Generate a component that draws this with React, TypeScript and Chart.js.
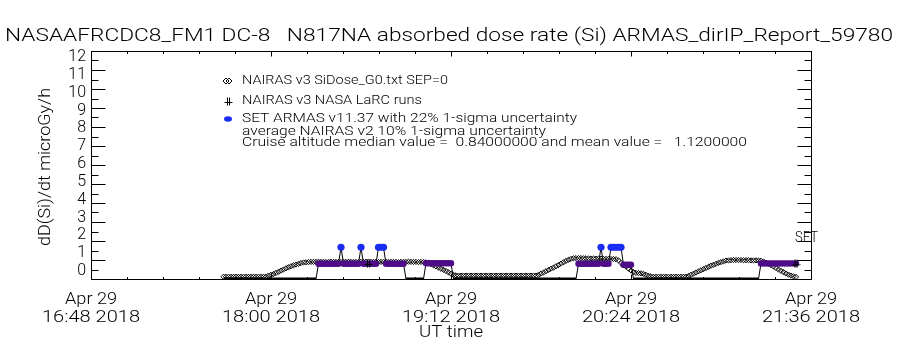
import React, { useEffect, useRef } from 'react';
import { Chart, registerables } from 'chart.js';

Chart.register(...registerables);

// ---------- text ----------
const TITLE = 'NASAAFRCDC8_FM1 DC-8   N817NA absorbed dose rate (Si) ARMAS_dirIP_Report_59780';
const Y_TITLE = 'dD(Si)/dt microGy/h';
const X_TITLE = 'UT time';
const LEGEND_LABELS = [
  'NAIRAS v3 SiDose_G0.txt SEP=0',
  'NAIRAS v3 NASA LaRC runs',
  'SET ARMAS v11.37 with 22% 1-sigma uncertainty',
];
const NOTE_LINES = [
  'average NAIRAS v2 10% 1-sigma uncertainty',
  'Cruise altitude median value =  0.84000000 and mean value =   1.1200000',
];
const SET_LABEL = 'SET';

// ---------- axes (x in minutes since 00:00 UT) ----------
const X_MIN = 1008; // 16:48
const X_MAX = 1296; // 21:36
const X_TICKS = [1008, 1080, 1152, 1224, 1296];
const X_TICK_DATE = 'Apr 29';
const X_TICK_YEAR = '2018';
const Y_MIN = 0;
const Y_MAX = 12;
const Y_TICKS = [0, 1, 2, 3, 4, 5, 6, 7, 8, 9, 10, 11, 12];

// ---------- data ----------
// NAIRAS v3 SiDose_G0, one value per minute starting 17:41 UT
const NAIRAS_START = 1061;
const NAIRAS_G0 = [
  0.12, 0.12, 0.12, 0.12, 0.12, 0.12, 0.12, 0.12, 0.12, 0.12,
  0.12, 0.12, 0.12, 0.12, 0.12, 0.12, 0.12, 0.12,
  0.18, 0.22, 0.26, 0.32, 0.38, 0.44, 0.5, 0.56, 0.62, 0.67, 0.72, 0.76, 0.8, 0.84, 0.87,
  0.88, 0.89, 0.9, 0.9, 0.9, 0.91, 0.9, 0.9, 0.89, 0.9, 0.91, 0.9, 0.9, 0.9, 0.89, 0.9,
  0.9, 0.91, 0.9, 0.9, 0.9, 0.89, 0.9, 0.9, 0.91, 0.9, 0.9, 0.9, 0.9, 0.89, 0.9, 0.9,
  0.91, 0.9, 0.9, 0.9, 0.9, 0.89, 0.9, 0.9, 0.9, 0.91, 0.9, 0.9, 0.9, 0.89, 0.9, 0.89,
  0.88,
  0.85, 0.78, 0.72, 0.66, 0.6, 0.54, 0.48, 0.42, 0.35, 0.28, 0.22, 0.19,
  0.18, 0.18, 0.18, 0.18, 0.18, 0.18, 0.18, 0.18, 0.18, 0.18, 0.18, 0.18, 0.18, 0.18, 0.18, 0.18,
  0.18, 0.18, 0.18, 0.18, 0.18, 0.18, 0.18, 0.18, 0.18, 0.18, 0.18, 0.18, 0.18, 0.18, 0.18, 0.18,
  0.22, 0.28, 0.34, 0.41, 0.48, 0.54, 0.6, 0.67, 0.74, 0.81, 0.88, 0.95, 1.01, 1.06, 1.09,
  1.1, 1.1, 1.1, 1.09, 1.09, 1.08, 1.08, 1.08, 1.07, 1.07, 1.07, 1.06, 1.06, 1.06, 1.05, 1.05, 1.04,
  0.98, 0.85, 0.74, 0.65, 0.55, 0.45, 0.36, 0.32, 0.31, 0.3, 0.27, 0.22, 0.17, 0.14, 0.12,
  0.12, 0.12, 0.12, 0.12, 0.12, 0.12, 0.12, 0.12, 0.12, 0.12, 0.12, 0.12, 0.12,
  0.16, 0.22, 0.28, 0.34, 0.4, 0.46, 0.52, 0.58, 0.64, 0.7, 0.75, 0.8, 0.85, 0.89, 0.93, 0.97,
  0.98, 0.99, 1.0, 1.0, 1.0, 1.0, 0.99, 0.99, 0.99, 0.98, 0.98, 0.98, 0.97, 0.96,
  0.92, 0.86, 0.8, 0.73, 0.66, 0.58, 0.5, 0.43, 0.36, 0.29, 0.23, 0.18, 0.14, 0.11,
];

// SET ARMAS v11.37, one value per minute starting 17:41 UT (0 = no measurement)
const ARMAS_START = 1061;
const ARMAS = [
  0, 0, 0, 0, 0, 0, 0, 0, 0, 0, 0, 0, 0, 0, 0, 0, 0, 0, 0, 0,
  0, 0, 0, 0, 0, 0, 0, 0, 0, 0, 0, 0, 0, 0, 0, 0, 0, 0,
  0.8, 0.8, 0.8, 0.8, 0.8, 0.8, 0.8, 0.8, 0.8, 1.67,
  0.8, 0.8, 0.8, 0.8, 0.8, 0.8, 0.8, 1.67,
  0.8, 0.8, 0.8, 0.8, 0.8, 0.8, 1.67, 1.67, 1.67,
  0.8, 0.8, 0.8, 0.8, 0.8, 0.8, 0.8, 0.8,
  0, 0, 0, 0, 0, 0, 0, 0,
  0.83, 0.83, 0.83, 0.83, 0.83, 0.83, 0.83, 0.83, 0.83, 0.83, 0.83,
  0, 0, 0, 0, 0, 0, 0, 0, 0, 0, 0, 0, 0, 0, 0, 0, 0, 0, 0, 0, 0, 0, 0, 0, 0,
  0, 0, 0, 0, 0, 0, 0, 0, 0, 0, 0, 0, 0, 0, 0, 0, 0, 0, 0, 0, 0, 0, 0, 0, 0,
  0.8, 0.8, 0.8, 0.8, 0.8, 0.8, 0.8, 0.8, 0.8, 1.67, 0.8, 0.8, 0.8,
  1.67, 1.67, 1.67, 1.67, 1.67, 0.75, 0.75, 0.75, 0.75,
  0, 0, 0, 0, 0, 0, 0, 0, 0, 0, 0, 0, 0, 0, 0, 0, 0, 0, 0, 0, 0, 0, 0, 0, 0, 0,
  0, 0, 0, 0, 0, 0, 0, 0, 0, 0, 0, 0, 0, 0, 0, 0, 0, 0, 0, 0, 0, 0, 0, 0, 0,
  0.82, 0.82, 0.82, 0.82, 0.82, 0.82, 0.82, 0.82, 0.82, 0.82, 0.82, 0.82, 0.82, 0.82, 0.82,
];

// NAIRAS v3 NASA LaRC runs
const LARC_TIMES = [1119, 1290];
const LARC_VALUES = [0.82, 0.8];

// ---------- style ----------
const FONT = 'Roboto, "Liberation Sans", "DejaVu Sans", sans-serif';
const WEIGHT = '300';
const PURPLE = '#4e0c88';
const BLUE = '#1a2cf2';

function fitText(ctx: CanvasRenderingContext2D, text: string, x: number, y: number, width: number, size: number, align: 'left' | 'center' | 'right' = 'left') {
  ctx.save();
  ctx.font = `${WEIGHT} ${size}px ${FONT}`;
  ctx.textBaseline = 'middle';
  ctx.textAlign = 'left';
  const w = ctx.measureText(text).width;
  const sx = width / w;
  ctx.translate(x, y);
  ctx.scale(sx, 1);
  const off = align === 'center' ? -w / 2 : align === 'right' ? -w : 0;
  ctx.fillText(text, off, 0);
  ctx.restore();
}

function makeHash(): HTMLCanvasElement {
  const c = document.createElement('canvas');
  c.width = 9;
  c.height = 9;
  const g = c.getContext('2d')!;
  g.strokeStyle = '#000';
  g.lineWidth = 1;
  g.beginPath();
  g.moveTo(3.5, 0.5); g.lineTo(3.5, 8.5);
  g.moveTo(5.5, 0.5); g.lineTo(5.5, 8.5);
  g.moveTo(0.5, 5.5); g.lineTo(8.5, 5.5);
  g.stroke();
  return c;
}

function hhmm(m: number) {
  const h = Math.floor(m / 60);
  const mm = m % 60;
  return `${h}:${mm < 10 ? '0' : ''}${mm}`;
}

const idlPlugin = {
  id: 'idlAxes',
  afterDraw(chart: any) {
    const { ctx, chartArea: a, scales } = chart;
    const x = scales.x;
    const y = scales.y;
    ctx.save();
    ctx.strokeStyle = '#000';
    ctx.fillStyle = '#000';
    ctx.lineWidth = 1;
    ctx.strokeRect(Math.round(a.left) + 0.5, Math.round(a.top) + 0.5, Math.round(a.right - a.left), Math.round(a.bottom - a.top));
    const L = Math.round(a.left) + 0.5;
    const R = Math.round(a.right) + 0.5;
    const T = Math.round(a.top) + 0.5;
    const B = Math.round(a.bottom) + 0.5;
    ctx.beginPath();
    Y_TICKS.forEach((v, i) => {
      const py = Math.round(y.getPixelForValue(v)) + 0.5;
      ctx.moveTo(L, py); ctx.lineTo(L + 14, py);
      ctx.moveTo(R, py); ctx.lineTo(R - 14, py);
      if (i < Y_TICKS.length - 1) {
        const pm = Math.round(y.getPixelForValue((v + Y_TICKS[i + 1]) / 2)) + 0.5;
        ctx.moveTo(L, pm); ctx.lineTo(L + 7, pm);
        ctx.moveTo(R, pm); ctx.lineTo(R - 7, pm);
      }
    });
    X_TICKS.forEach((v, i) => {
      const px = Math.round(x.getPixelForValue(v)) + 0.5;
      ctx.moveTo(px, B); ctx.lineTo(px, B - 5);
      ctx.moveTo(px, T); ctx.lineTo(px, T + 5);
      if (i < X_TICKS.length - 1) {
        const step = (X_TICKS[i + 1] - v) / 5;
        for (let k = 1; k < 5; k++) {
          const pm = Math.round(x.getPixelForValue(v + k * step)) + 0.5;
          ctx.moveTo(pm, B); ctx.lineTo(pm, B - 2.5);
          ctx.moveTo(pm, T); ctx.lineTo(pm, T + 2.5);
        }
      }
    });
    ctx.stroke();

    // y tick labels: IDL draws them pulled slightly inside the frame
    ctx.font = `${WEIGHT} 16px ${FONT}`;
    ctx.textAlign = 'right';
    ctx.textBaseline = 'middle';
    const top = y.getPixelForValue(Y_MAX);
    const bot = y.getPixelForValue(Y_MIN);
    Y_TICKS.forEach((v) => {
      const p = y.getPixelForValue(v);
      const ly = (top + 6) + (p - top) * ((bot - 8) - (top + 6)) / (bot - top);
      ctx.fillText(String(v), 86, ly);
    });
    X_TICKS.forEach((v) => {
      const px = x.getPixelForValue(v);
      fitText(ctx, X_TICK_DATE, px, 300, 52, 17, 'center');
      fitText(ctx, `${hhmm(v)} ${X_TICK_YEAR}`, px, 318, 98, 17, 'center');
    });
    fitText(ctx, TITLE, 5, 36, 888, 19, 'left');
    fitText(ctx, X_TITLE, 451, 333, 64, 17, 'center');
    ctx.save();
    ctx.translate(46, 167);
    ctx.rotate(-Math.PI / 2);
    fitText(ctx, Y_TITLE, 0, 0, 158, 17, 'center');
    ctx.restore();

    const lx = 242;
    const rows = [81, 101, 119];
    const widths = [206, 180, 335];
    LEGEND_LABELS.forEach((t, i) => fitText(ctx, t, lx, rows[i], widths[i], 13));
    fitText(ctx, NOTE_LINES[0], lx, 132, 304, 13);
    fitText(ctx, NOTE_LINES[1], lx, 143, 505, 13);
    ctx.beginPath();
    [226, 229].forEach((sx) => {
      ctx.moveTo(sx, rows[0] - 3); ctx.lineTo(sx + 3, rows[0]); ctx.lineTo(sx, rows[0] + 3); ctx.lineTo(sx - 3, rows[0]); ctx.closePath();
    });
    ctx.stroke();
    ctx.drawImage(makeHash(), 224, rows[1] - 4);
    ctx.fillStyle = BLUE;
    ctx.beginPath();
    ctx.ellipse(228, rows[2], 4, 2.8, 0, 0, Math.PI * 2);
    ctx.fill();
    ctx.fillStyle = '#000';
    fitText(ctx, SET_LABEL, 795, 238, 23, 14);
    ctx.restore();
  },
};

export default function App() {
  const ref = useRef<HTMLCanvasElement | null>(null);
  useEffect(() => {
    if (!ref.current) return;
    const hash = makeHash();
    const chart = new Chart(ref.current, {
      type: 'line',
      data: {
        datasets: [
          {
            label: LEGEND_LABELS[1],
            data: LARC_TIMES.map((t, i) => ({ x: t, y: LARC_VALUES[i] })),
            showLine: false,
            pointStyle: hash as any,
            pointRadius: 4,
          },
          {
            label: LEGEND_LABELS[2],
            data: ARMAS.map((v, i) => ({ x: ARMAS_START + i, y: v })),
            borderColor: '#000',
            borderWidth: 1,
            pointStyle: 'circle',
            pointRadius: (c: any) => (c.raw && c.raw.y > 1.2 ? 3.6 : c.raw && c.raw.y > 0 ? 3.2 : 0),
            pointBackgroundColor: (c: any) => (c.raw && c.raw.y > 1.2 ? BLUE : PURPLE),
            pointBorderWidth: 0,
            pointBorderColor: 'rgba(0,0,0,0)',
            segment: {
              borderWidth: (c: any) => (c.p0.parsed.y === 0 && c.p1.parsed.y === 0 ? 3 : 1),
            },
          } as any,
          {
            label: LEGEND_LABELS[0],
            data: NAIRAS_G0.map((v, i) => ({ x: NAIRAS_START + i, y: v })),
            showLine: false,
            pointStyle: 'rectRot',
            pointRadius: 2.6,
            pointBorderColor: '#000',
            pointBackgroundColor: 'rgba(255,255,255,0)',
            pointBorderWidth: 1,
          },
        ],
      },
      options: {
        animation: false,
        responsive: false,
        maintainAspectRatio: false,
        layout: { padding: { left: 91, right: 89, top: 51, bottom: 71 } },
        plugins: { legend: { display: false }, title: { display: false }, tooltip: { enabled: false } },
        scales: {
          x: { type: 'linear', min: X_MIN, max: X_MAX, display: false },
          y: { type: 'linear', min: Y_MIN, max: Y_MAX, display: false },
        },
      },
      plugins: [idlPlugin],
    });
    return () => chart.destroy();
  }, []);
  return (
    <div style={{ position: 'fixed', left: 0, top: 0, width: 900, height: 350, background: '#fff' }}>
      <canvas ref={ref} width={900} height={350} style={{ width: 900, height: 350, display: 'block' }} />
    </div>
  );
}
